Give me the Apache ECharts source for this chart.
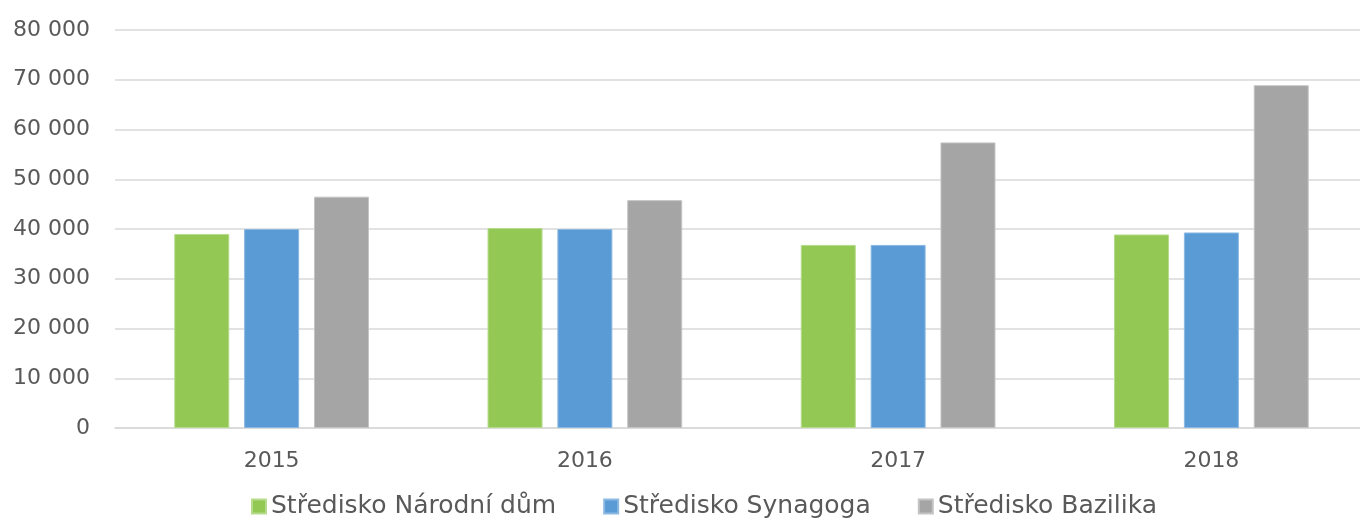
<!DOCTYPE html>
<html><head><meta charset="utf-8">
<script src="https://cdn.jsdelivr.net/npm/echarts@6/dist/echarts.min.js"></script>
<style>html,body{margin:0;padding:0;background:#fff}#c{width:1360px;height:524px}</style>
</head><body><div id="c"></div>
<script>
const categories = ['2015', '2016', '2017', '2018'];
const seriesNames = ['Středisko Národní dům', 'Středisko Synagoga', 'Středisko Bazilika'];
const narodniDum = [39000, 40200, 36800, 38900];
const synagoga = [40000, 40000, 36800, 39300];
const bazilika = [46500, 45800, 57400, 68900];
const colors = ['#92C853', '#5B9BD5', '#A5A5A5'];
const borders = ['#B5DB8C', '#8BB9E3', '#C4C4C4'];
const font = 'DejaVu Sans';
const chart = echarts.init(document.getElementById('c'));
const dataSets = [narodniDum, synagoga, bazilika];
chart.setOption({
  animation: false,
  textStyle: { fontFamily: font },
  grid: { left: 115, width: 1253, top: 30, bottom: 96, containLabel: false, outerBoundsMode: 'none' },
  legend: {
    bottom: 0, left: 246, itemWidth: 14, itemHeight: 14, itemGap: 47,
    icon: 'rect',
    textStyle: { fontFamily: font, fontSize: 25, color: '#595959', padding: [0, 0, 0, 0] },
    data: seriesNames
  },
  xAxis: {
    type: 'category', data: categories,
    axisLine: { show: true, lineStyle: { color: '#D9D9D9', width: 1.5 } },
    axisTick: { show: false },
    axisLabel: { fontFamily: font, fontSize: 22, color: '#595959', margin: 22 }
  },
  yAxis: {
    type: 'value', min: 0, max: 80000, interval: 10000,
    axisLine: { show: false }, axisTick: { show: false },
    splitLine: { lineStyle: { color: '#D9D9D9', width: 1.5 } },
    axisLabel: {
      fontFamily: font, fontSize: 22, color: '#595959', margin: 25,
      formatter: v => String(v).replace(/\B(?=(\d{3})+(?!\d))/g, ' ')
    }
  },
  series: dataSets.map((d, i) => ({
    name: seriesNames[i], type: 'bar', data: d,
    barWidth: 55, barGap: '27%',
    itemStyle: { color: colors[i], borderColor: borders[i], borderWidth: 1 }
  }))
});
</script></body></html>
